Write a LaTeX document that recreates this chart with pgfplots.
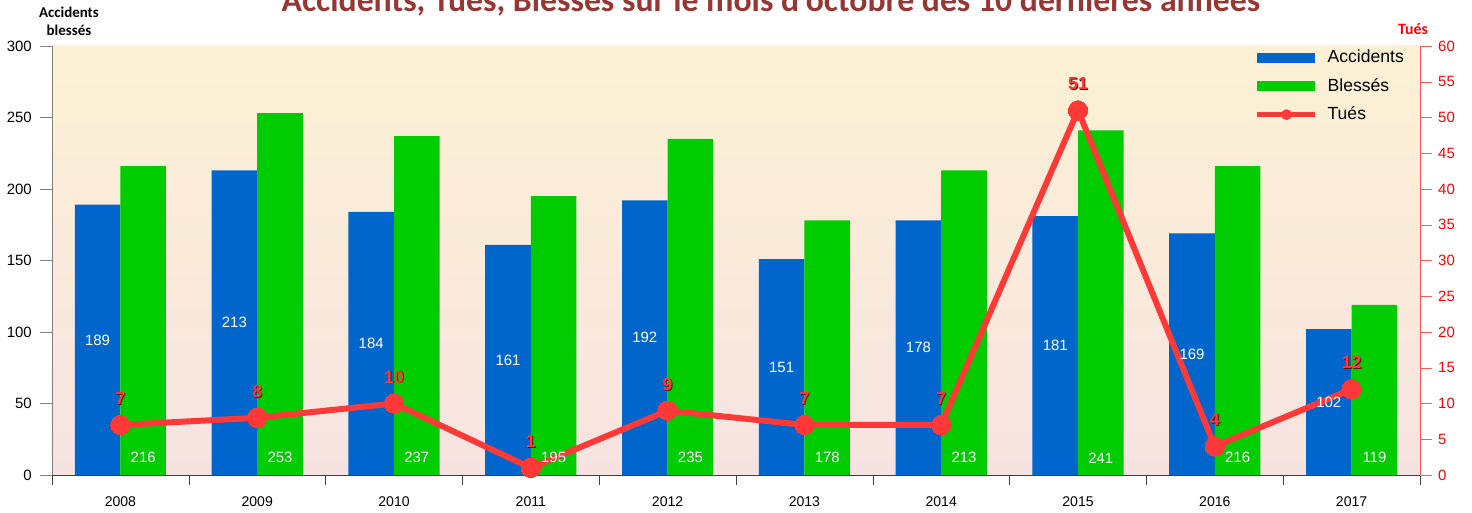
\documentclass[border=0pt]{standalone}
\usepackage{fontspec}
\setmainfont{Liberation Sans}
\newfontfamily\calibri{Carlito}
\usepackage{pgfplots}
\pgfplotsset{compat=1.18}
\usepackage{pgfplotstable}

\definecolor{AccBlue}{RGB}{0,102,204}
\definecolor{BleGreen}{RGB}{0,204,0}
\definecolor{TueRed}{RGB}{255,56,56}
\definecolor{AxRed}{RGB}{255,0,0}
\definecolor{TitleRed}{RGB}{149,55,53}
\definecolor{BgTop}{RGB}{252,241,212}
\definecolor{BgBot}{RGB}{246,227,225}
\definecolor{ShadowRed}{RGB}{90,20,20}

% annee, accidents, blesses, tues
\pgfplotstableread{
x acc ble tues
0 189 216 7
1 213 253 8
2 184 237 10
3 161 195 1
4 192 235 9
5 151 178 7
6 178 213 7
7 181 241 51
8 169 216 4
9 102 119 12
}\data

\pgfplotsset{
  common/.style={
    at={(0,0)}, anchor=south west,
    scale only axis, width=27.36cm, height=8.58cm,
    xmin=-0.5, xmax=9.5, clip=false,
    /pgf/number format/assume math mode=true,
  },
}

\begin{document}
\begin{tikzpicture}
% barres
\begin{axis}[
  common,
  ymin=0, ymax=300,
  axis background/.style={top color=BgTop, bottom color=BgBot},
  axis x line*=bottom, axis y line*=left,
  x axis line style={draw=black!75, -},
  y axis line style={draw=black!50, -},
  tick align=outside,
  xtick={0,...,9},
  xticklabels={2008,2009,2010,2011,2012,2013,2014,2015,2016,2017},
  major x tick style={draw=none},
  minor xtick={-0.5,0.5,...,9.5},
  minor x tick style={draw=black!75},
  minor tick length=0.2cm,
  major tick length=0.24cm,
  xticklabel style={font=\fontsize{8}{9}\selectfont, yshift=-0.07cm},
  ytick={0,50,...,300},
  y tick style={draw=black!50},
  yticklabel style={font=\fontsize{8.5}{10}\selectfont, xshift=-0.04cm},
  legend style={at={(0.879,1.0)}, anchor=north west, draw=none, fill=none,
    inner sep=0pt, font=\fontsize{10}{12}\selectfont, row sep=0.12cm,
    /tikz/every odd column/.append style={column sep=0.12cm}},
  legend cell align=left,
]
\addplot[ybar, bar width=0.333, bar shift=-0.1667, fill=AccBlue, draw=none,
  legend image code/.code={\fill[AccBlue] (0cm,-0.1cm) rectangle (1.16cm,0.1cm);}]
  table[x=x, y=acc] {\data};
\addplot[ybar, bar width=0.333, bar shift=0.1667, fill=BleGreen, draw=none,
  legend image code/.code={\fill[BleGreen] (0cm,-0.1cm) rectangle (1.16cm,0.1cm);}]
  table[x=x, y=ble] {\data};
\addlegendimage{legend image code/.code={
  \draw[TueRed, line width=3pt] (0cm,0cm) -- (1.16cm,0cm);
  \fill[TueRed] (0.58cm,0cm) circle (0.1cm);}}
\legend{Accidents, Blessés, Tués}
\end{axis}

% tues
\begin{axis}[
  common,
  ymin=0, ymax=60,
  axis x line=none, axis y line*=right,
  y axis line style={draw=AxRed!65, -},
  tick align=outside, major tick length=0.24cm,
  ytick={0,5,...,60},
  y tick style={draw=AxRed!65},
  yticklabel style={text=AxRed, font=\fontsize{8.5}{10}\selectfont},
]
\addplot[TueRed, line width=3.4pt, mark=*, mark size=5.5pt,
  mark options={fill=TueRed, draw=TueRed, line width=0pt}]
  table[x=x, y=tues] {\data};
\addplot[draw=none, mark=none, nodes near coords, point meta=explicit,
  every node near coord/.append style={anchor=center, yshift=0.53cm, xshift=0.5pt,
    text=ShadowRed, font=\bfseries\fontsize{10}{12}\selectfont, yshift=-0.5pt}]
  table[x=x, y=tues, meta=tues] {\data};
\addplot[draw=none, mark=none, nodes near coords, point meta=explicit,
  every node near coord/.append style={anchor=center, yshift=0.53cm,
    text=TueRed, font=\bfseries\fontsize{10}{12}\selectfont}]
  table[x=x, y=tues, meta=tues] {\data};
\end{axis}

% etiquettes des barres
\begin{axis}[
  common, hide axis,
  ymin=0, ymax=300,
]
\addplot[draw=none, mark=none, nodes near coords, point meta=explicit,
  every node near coord/.append style={anchor=center, text=white,
    font=\fontsize{8.5}{10}\selectfont}]
  table[x expr=\thisrow{x}-0.1667, y expr=\thisrow{acc}/2, meta=acc] {\data};
\addplot[draw=none, mark=none, nodes near coords, point meta=explicit,
  every node near coord/.append style={anchor=center, text=white,
    font=\fontsize{8.5}{10}\selectfont}]
  table[x expr=\thisrow{x}+0.1667, y expr=12, meta=ble] {\data};
\end{axis}

% titres
\node[anchor=base, text=TitleRed, font=\calibri\bfseries\fontsize{19.2}{23}\selectfont]
  at (14.38cm,9.26cm) {Accidents, Tués, Blessés sur le mois d'octobre des 10 dernières années};
\node[align=center, font=\calibri\bfseries\fontsize{8.5}{10.5}\selectfont, anchor=base]
  at (0.34cm,8.79cm) {Accidents\\blessés};
\node[anchor=base, text=AxRed, font=\calibri\bfseries\fontsize{9}{11}\selectfont]
  at (27.22cm,8.80cm) {Tués};

\pgfresetboundingbox
\useasboundingbox (-1.04cm,-0.76cm) rectangle (28.40cm,9.50cm);
\end{tikzpicture}
\end{document}
